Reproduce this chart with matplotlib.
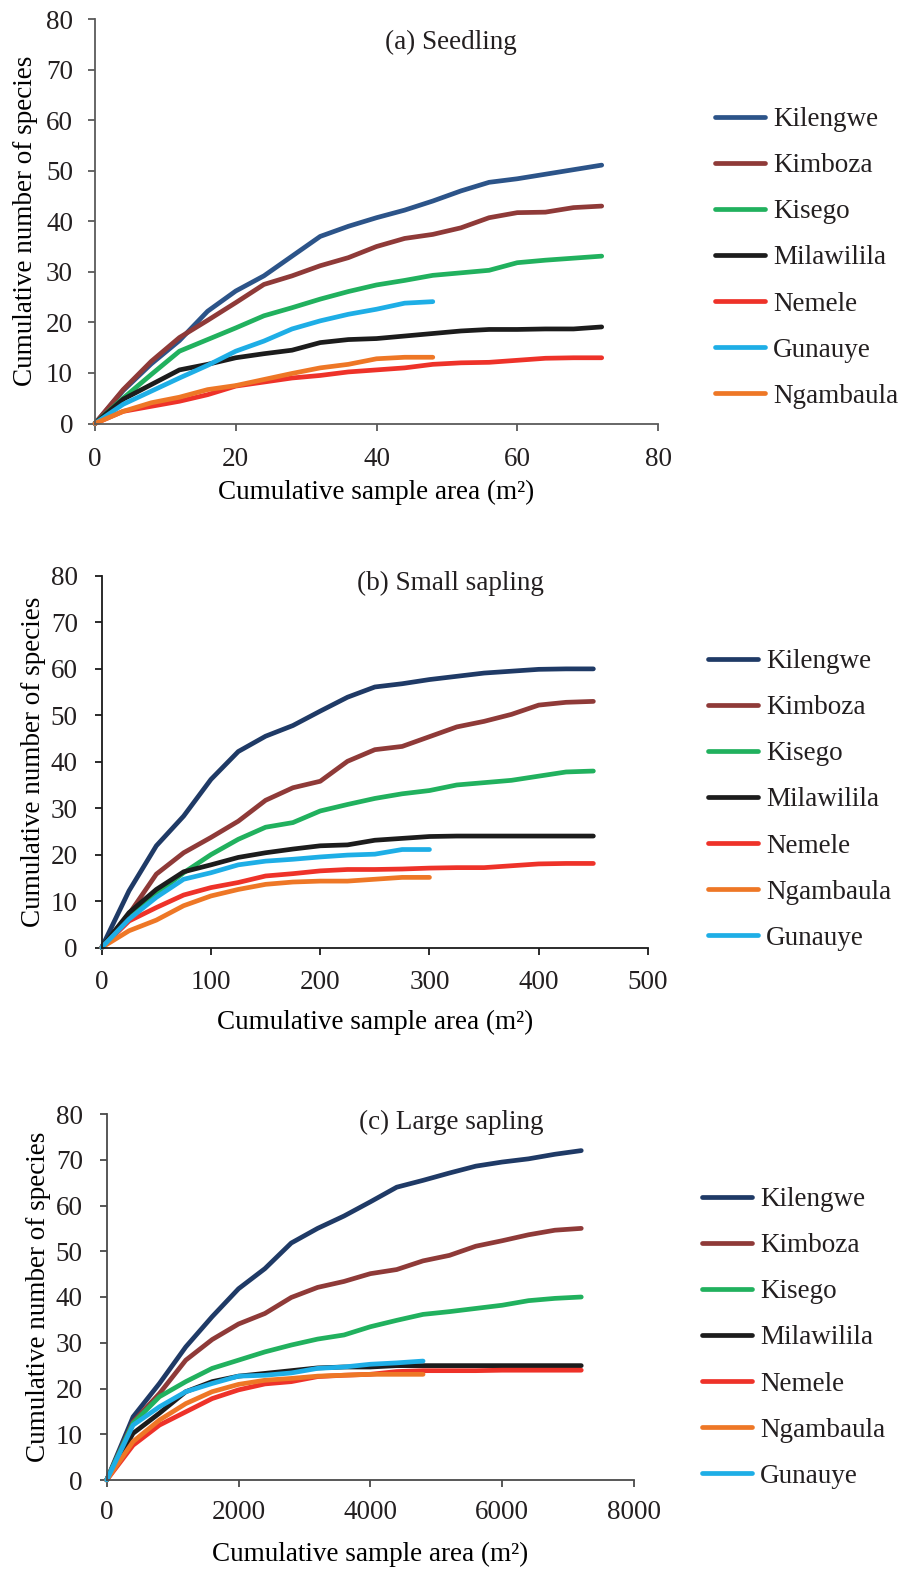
import matplotlib
matplotlib.use("Agg")
import matplotlib.pyplot as plt

plt.rcParams["font.family"] = ["Liberation Serif", "DejaVu Serif"]
plt.rcParams["font.size"] = 19.5
plt.rcParams["text.color"] = "#231f20"

# ==== data
sites_a = ["Kilengwe", "Kimboza", "Kisego", "Milawilila", "Nemele", "Gunauye", "Ngambaula"]
sites_bc = ["Kilengwe", "Kimboza", "Kisego", "Milawilila", "Nemele", "Ngambaula", "Gunauye"]

# (a) seedling, area in m2
area_a = [0, 4, 8, 12, 16, 20, 24, 28, 32, 36, 40, 44, 48, 52, 56, 60, 64, 68, 72]
seed_kilengwe = [0, 6.5, 11.8, 16.4, 22.2, 26.2, 29.2, 33.1, 37.0, 39.0, 40.7, 42.2, 44.0, 46.0, 47.7, 48.4, 49.3, 50.2, 51.1]
seed_kimboza = [0, 6.7, 12.3, 17.0, 20.4, 23.9, 27.5, 29.2, 31.2, 32.8, 35.0, 36.6, 37.4, 38.7, 40.7, 41.7, 41.8, 42.7, 43.0]
seed_kisego = [0, 5.0, 9.7, 14.3, 16.6, 18.9, 21.3, 22.9, 24.6, 26.1, 27.4, 28.3, 29.3, 29.8, 30.3, 31.8, 32.3, 32.7, 33.1]
seed_milawilila = [0, 4.8, 7.7, 10.6, 11.7, 13.0, 13.8, 14.5, 16.0, 16.6, 16.8, 17.3, 17.8, 18.3, 18.6, 18.6, 18.7, 18.7, 19.1]
seed_nemele = [0, 2.4, 3.4, 4.4, 5.7, 7.4, 8.2, 9.0, 9.5, 10.2, 10.6, 11.0, 11.7, 12.0, 12.1, 12.5, 12.9, 13.0, 13.0]
seed_gunauye = [0, 3.8, 6.4, 9.0, 11.5, 14.3, 16.3, 18.7, 20.3, 21.6, 22.6, 23.8, 24.1]
seed_ngambaula = [0, 2.4, 4.1, 5.2, 6.7, 7.5, 8.7, 9.9, 11.0, 11.7, 12.8, 13.1, 13.1]

# (b) small sapling
area_b = [0, 25, 50, 75, 100, 125, 150, 175, 200, 225, 250, 275, 300, 325, 350, 375, 400, 425, 450]
ss_kilengwe = [0, 12.2, 21.9, 28.3, 36.2, 42.2, 45.5, 47.8, 50.9, 53.9, 56.1, 56.8, 57.7, 58.4, 59.1, 59.5, 59.9, 60.0, 60.0]
ss_kimboza = [0, 7.2, 15.8, 20.4, 23.7, 27.2, 31.7, 34.4, 35.8, 40.1, 42.6, 43.3, 45.4, 47.5, 48.7, 50.2, 52.2, 52.8, 53.0]
ss_kisego = [0, 7.2, 11.5, 16.1, 20.0, 23.3, 25.9, 26.9, 29.4, 30.8, 32.1, 33.1, 33.8, 35.0, 35.5, 36.0, 36.9, 37.8, 38.0]
ss_milawilila = [0, 7.5, 12.5, 16.3, 17.8, 19.4, 20.4, 21.2, 21.9, 22.1, 23.1, 23.5, 23.9, 24.0, 24.0, 24.0, 24.0, 24.0, 24.0]
ss_nemele = [0, 5.7, 8.6, 11.3, 12.9, 14.0, 15.4, 15.9, 16.5, 16.8, 16.8, 16.9, 17.1, 17.2, 17.2, 17.6, 18.0, 18.1, 18.1]
ss_ngambaula = [0, 3.6, 5.9, 9.0, 11.1, 12.5, 13.6, 14.1, 14.3, 14.3, 14.7, 15.1, 15.1]
ss_gunauye = [0, 6.1, 10.8, 14.7, 16.1, 17.8, 18.6, 19.0, 19.5, 19.9, 20.1, 21.1, 21.1]

# (c) large sapling
area_c = [0, 400, 800, 1200, 1600, 2000, 2400, 2800, 3200, 3600, 4000, 4400, 4800, 5200, 5600, 6000, 6400, 6800, 7200]
ls_kilengwe = [0, 13.8, 21.1, 29.1, 35.7, 41.8, 46.2, 51.8, 55.0, 57.7, 60.8, 64.0, 65.5, 67.1, 68.6, 69.5, 70.2, 71.2, 72.0]
ls_kimboza = [0, 12.7, 18.9, 26.2, 30.7, 34.1, 36.4, 39.9, 42.1, 43.4, 45.1, 46.0, 47.9, 49.1, 51.1, 52.3, 53.6, 54.6, 55.0]
ls_kisego = [0, 12.4, 18.2, 21.5, 24.4, 26.2, 28.0, 29.5, 30.8, 31.7, 33.5, 34.9, 36.2, 36.8, 37.5, 38.2, 39.2, 39.7, 40.0]
ls_milawilila = [0, 10.2, 14.6, 19.3, 21.5, 22.7, 23.3, 23.9, 24.5, 24.7, 24.7, 25.0, 25.0, 25.0, 25.0, 25.0, 25.0, 25.0, 25.0]
ls_nemele = [0, 7.6, 12.0, 14.9, 17.8, 19.7, 21.0, 21.5, 22.6, 22.9, 23.1, 23.7, 23.9, 23.9, 23.9, 24.0, 24.0, 24.0, 24.0]
ls_ngambaula = [0, 8.4, 13.1, 16.7, 19.3, 20.9, 21.8, 22.2, 22.7, 22.9, 23.1, 23.1, 23.1]
ls_gunauye = [0, 12.0, 16.0, 19.3, 21.1, 22.7, 22.9, 23.4, 24.4, 24.7, 25.3, 25.6, 26.0]

colors = {
    "Kilengwe": "#2c5489",
    "Kimboza": "#8f3a38",
    "Kisego": "#21b15e",
    "Milawilila": "#1c1c1c",
    "Nemele": "#ee3229",
    "Gunauye": "#1eaee6",
    "Ngambaula": "#ee7726",
}
navy = "#1f3a66"

W, H = 901, 1569
fig = plt.figure(figsize=(W / 100, H / 100), dpi=100)


def px_axes(left, right, top, bottom):
    return fig.add_axes([left / W, 1 - bottom / H, (right - left) / W, (bottom - top) / H])


def draw_panel(ax, x, series, names, xmax, xstep, title, title_xy, spine_col,
               xpad, ypad, ylab_x, xlab_y, leg_left, leg_mid, kil_col):
    for name, y in zip(names, series):
        col = kil_col if name == "Kilengwe" else colors[name]
        ax.plot(x[:len(y)], y, color=col, lw=3.4, label=name,
                solid_capstyle="round", solid_joinstyle="round", clip_on=False)
    ax.set_xlim(0, xmax)
    ax.set_ylim(0, 80)
    ax.set_xticks(range(0, xmax + 1, xstep))
    ax.set_yticks(range(0, 81, 10))
    for s in ["top", "right"]:
        ax.spines[s].set_visible(False)
    for s in ["left", "bottom"]:
        ax.spines[s].set_color(spine_col)
        ax.spines[s].set_linewidth(1.3)
    ax.tick_params(axis="both", direction="out", length=5, width=1.3, color=spine_col,
                   labelcolor="#231f20")
    ax.tick_params(axis="x", pad=xpad)
    ax.tick_params(axis="y", pad=ypad)
    ax.set_ylabel("Cumulative number of species")
    ax.yaxis.set_label_coords(ylab_x, 0.5)
    ax.set_xlabel("Cumulative sample area (m²)")
    ax.xaxis.label.set_va("baseline")
    ax.xaxis.set_label_coords(0.5, xlab_y)
    ax.text(title_xy[0], title_xy[1], title, transform=ax.transAxes,
            ha="center", va="baseline")
    fig.legend(*ax.get_legend_handles_labels(), loc="center left",
               bbox_to_anchor=(leg_left / W, 1 - leg_mid / H), frameon=False,
               borderpad=0, borderaxespad=0, handlelength=1.85, handletextpad=0.3,
               labelspacing=0.78)


# (a) Seedling
ax_a = px_axes(95, 658, 19, 423.5)
draw_panel(ax_a, area_a,
           [seed_kilengwe, seed_kimboza, seed_kisego, seed_milawilila, seed_nemele,
            seed_gunauye, seed_ngambaula],
           sites_a, 80, 20, "(a) Seedling", (0.632, 0.927), "#5a5a5a",
           xpad=12, ypad=10.8, ylab_x=-0.1015, xlab_y=(423.5 - 499) / 404.5,
           leg_left=715, leg_mid=258, kil_col=colors["Kilengwe"])

# (b) Small sapling
ax_b = px_axes(101.7, 648, 576, 947.5)
draw_panel(ax_b, area_b,
           [ss_kilengwe, ss_kimboza, ss_kisego, ss_milawilila, ss_nemele,
            ss_ngambaula, ss_gunauye],
           sites_bc, 500, 100, "(b) Small sapling", (0.639, 0.962), "#1a1a1a",
           xpad=11, ypad=12.2, ylab_x=-0.1013, xlab_y=(947.5 - 1029) / 371.5,
           leg_left=708, leg_mid=800, kil_col=navy)

# (c) Large sapling
ax_c = px_axes(106.7, 634, 1114, 1480)
draw_panel(ax_c, area_c,
           [ls_kilengwe, ls_kimboza, ls_kisego, ls_milawilila, ls_nemele,
            ls_ngambaula, ls_gunauye],
           sites_bc, 8000, 2000, "(c) Large sapling", (0.653, 0.959), "#4a4a4a",
           xpad=9.5, ypad=12.2, ylab_x=-0.105, xlab_y=(1480 - 1561) / 366,
           leg_left=702, leg_mid=1338, kil_col=navy)

fig.savefig("out.png", dpi=100)
